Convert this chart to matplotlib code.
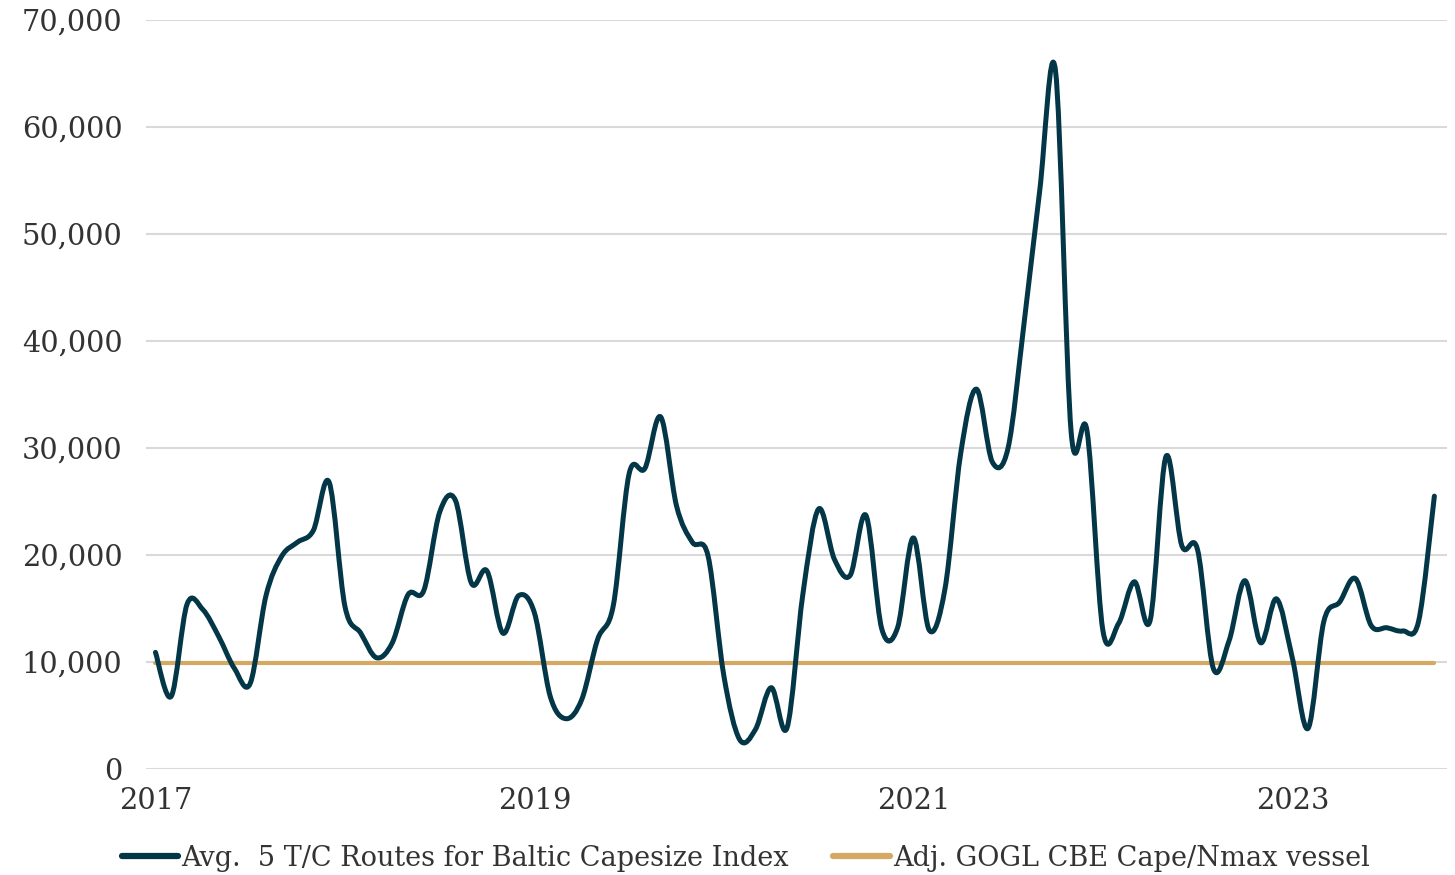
import numpy as np
import pandas as pd
import matplotlib
matplotlib.use("Agg")
import matplotlib.pyplot as plt
from matplotlib.path import Path
from matplotlib.patches import PathPatch
from matplotlib.lines import Line2D
from matplotlib.ticker import FuncFormatter

# Monthly averages, Jan 2017 - Oct 2023 (USD/day)
months = pd.date_range("2017-01-01", periods=82, freq="MS")
capesize_5tc = [
    # 2017
    10900, 6800, 15400, 14900, 12400, 9400, 8000, 16200, 19900, 21200, 22300, 26800,
    # 2018
    15200, 12700, 10400, 11800, 16300, 16700, 24000, 25100, 17400, 18500, 12700, 16200,
    # 2019
    14600, 6800, 4700, 6500, 12100, 15300, 27600, 28100, 32900, 24600, 21200, 19900,
    # 2020
    8700, 2750, 3700, 7600, 3850, 16300, 24300, 19600, 18100, 23700, 13100, 13200,
    # 2021
    21600, 13000, 16800, 29500, 35500, 28700, 30000, 41500, 54000, 65300, 31400, 31600,
    # 2022
    13000, 13600, 17500, 13900, 29200, 20900, 20500, 9400, 12000, 17600, 11800, 15900,
    # 2023
    10400, 3800, 13800, 15600, 17800, 13400, 13200, 12900, 13800, 25500,
]
cbe_cape_nmax = [9900] * len(months)

series_labels = ["Avg.  5 T/C Routes for Baltic Capesize Index",
                 "Adj. GOGL CBE Cape/Nmax vessel"]
tick_years = [2017, 2019, 2021, 2023]

NAVY = "#033646"
GOLD = "#D3A964"
GRID = "#D9D9D9"
TEXT = "#333333"

plt.rcParams["font.family"] = ["DejaVu Serif"]


def smooth_path(x, y):
    # Catmull-Rom curve through every point, written as cubic Bezier segments
    pts = np.column_stack([x, y]).astype(float)
    padded = np.vstack([pts[0], pts, pts[-1]])
    verts = [pts[0]]
    codes = [Path.MOVETO]
    for i in range(len(pts) - 1):
        p0, p1, p2, p3 = padded[i], padded[i + 1], padded[i + 2], padded[i + 3]
        c1 = p1 + (p2 - p0) / 6.0
        c2 = p2 - (p3 - p1) / 6.0
        verts += [c1, c2, p2]
        codes += [Path.CURVE4] * 3
    return Path(verts, codes)


fig = plt.figure(figsize=(14.55, 8.75), dpi=100)
ax = fig.add_axes([146 / 1455, 106 / 875, 1301 / 1455, 749 / 875])

x = np.arange(len(months))

ax.plot(x, cbe_cape_nmax, color=GOLD, lw=3.0, solid_capstyle="round", zorder=3)
ax.add_patch(PathPatch(smooth_path(x, capesize_5tc), facecolor="none",
                       edgecolor=NAVY, lw=3.6, capstyle="round",
                       joinstyle="round", zorder=4))

ax.set_ylim(0, 70000)
ax.set_xlim(-0.6, 81.8)
ax.set_yticks(np.arange(0, 70001, 10000))
ax.yaxis.set_major_formatter(FuncFormatter(lambda v, _: f"{v:,.0f}"))

tick_pos = [list(months.year).index(yr) for yr in tick_years]
ax.set_xticks(tick_pos)
ax.set_xticklabels([str(yr) for yr in tick_years])

ax.grid(axis="y", color=GRID, lw=1.5)
ax.set_axisbelow(True)
for s in ax.spines.values():
    s.set_visible(False)
ax.tick_params(axis="both", length=0, labelsize=20.8, colors=TEXT)
ax.tick_params(axis="y", pad=17)
ax.tick_params(axis="x", pad=13)

handles = [Line2D([], [], color=NAVY, lw=4.5, solid_capstyle="round"),
           Line2D([], [], color=GOLD, lw=4.5, solid_capstyle="round")]
fig.legend(handles, series_labels, loc="center", bbox_to_anchor=(0.5125, 0.019),
           ncol=2, frameon=False, fontsize=19.5, handlelength=2.1,
           handletextpad=0.1, columnspacing=1.65, labelcolor=TEXT,
           borderpad=0, borderaxespad=0)

fig.savefig("out.png", dpi=100, facecolor="white")
